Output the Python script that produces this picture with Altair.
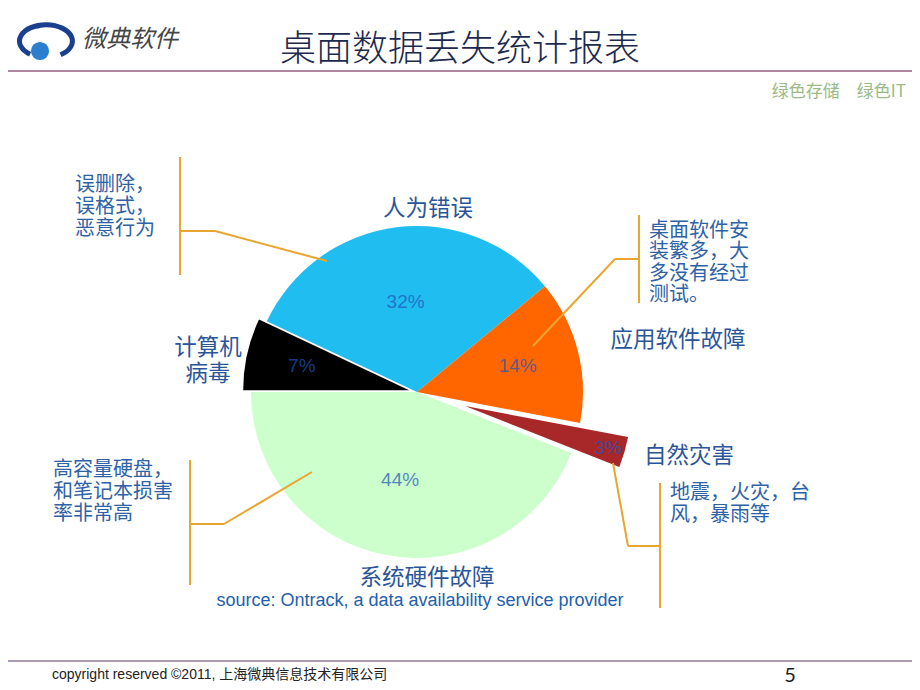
import math
import altair as alt
import pandas as pd

# ---------------- data ----------------
categories = ["计算机病毒", "人为错误", "应用软件故障", "自然灾害", "系统硬件故障"]
values = [7, 32, 14, 3, 44]
slice_colors = ["#000000", "#20BDF0", "#FF6600", "#A8282A", "#CCFFCC"]

title_text = "桌面数据丢失统计报表"
slogan_text = "绿色存储\u3000绿色IT"
logo_text = "微典软件"
source_text = "source: Ontrack, a data availability service provider"
footer_text = "copyright reserved ©2011, 上海微典信息技术有限公司"
page_no = "5"

cat_labels = [["计算机", "病毒"], ["人为错误"], ["应用软件故障"], ["自然灾害"], ["系统硬件故障"]]
notes = [
    ["误删除，", "误格式，", "恶意行为"],
    ["桌面软件安", "装繁多，大", "多没有经过", "测试。"],
    ["地震，火灾，台", "风，暴雨等"],
    ["高容量硬盘，", "和笔记本损害", "率非常高"],
]

# ---------------- layout (reference pixel coords) ----------------
OX, OY = 8, 8
CX, CY, R = 417 - OX, 392 - OY, 166
START = 1.5 * math.pi
explode_px = [8, 0, 0, 50, 0]
label_radius = [110, 91, 104, 149, 90]

CAT_COLOR = "#2A5699"
NOTE_COLOR = "#2E62A6"
LINE_COLOR = "#E8A631"
CJK = "Noto Sans CJK SC"

pie_df = pd.DataFrame({
    "cat": categories, "value": values, "order": list(range(len(values))),
    "explode": explode_px, "lr": label_radius,
})

base = (
    alt.Chart(pie_df)
    .transform_window(cum="sum(value)", sort=[alt.SortField("order")], frame=[None, 0])
    .transform_calculate(
        start="datum.cum - datum.value",
        mid=f"{START} + (datum.cum - datum.value / 2) / 100 * 2 * PI",
    )
    .transform_calculate(
        px=f"{CX} + datum.explode * sin(datum.mid)",
        py=f"{CY} - datum.explode * cos(datum.mid)",
        lx=f"{CX} + (datum.explode + datum.lr) * sin(datum.mid)",
        ly=f"{CY} - (datum.explode + datum.lr) * cos(datum.mid)",
        pct="datum.value + '%'",
    )
)

theta_scale = alt.Scale(domain=[0, 100], range=[START, START + 2 * math.pi])
arcs = base.mark_arc(radius=R).encode(
    theta=alt.Theta("start:Q", scale=theta_scale, stack=None),
    theta2="cum:Q",
    x=alt.X("px:Q", scale=None),
    y=alt.Y("py:Q", scale=None),
    color=alt.Color("cat:N", scale=alt.Scale(domain=categories, range=slice_colors), legend=None),
)

pct_labels = base.mark_text(
    font="Liberation Sans", fontSize=19, color="#2255BB", opacity=0.7,
    align="center", baseline="middle",
).encode(
    x=alt.X("lx:Q", scale=None),
    y=alt.Y("ly:Q", scale=None),
    text="pct:N",
)

# leader lines
segs = [
    (180, 157, 180, 275), (180, 231, 215, 231), (215, 231, 327, 261),
    (639, 215, 639, 303), (639, 259, 615, 259), (615, 259, 533, 346),
    (660, 483, 660, 608), (660, 546, 628, 546), (628, 546, 613, 463),
    (190, 460, 190, 585), (190, 524, 224, 524), (224, 524, 312, 472),
]
seg_df = pd.DataFrame(
    [{"x": a - OX, "y": b - OY, "x2": c - OX, "y2": d - OY} for a, b, c, d in segs]
)
leaders = alt.Chart(seg_df).mark_rule(color=LINE_COLOR, strokeWidth=2).encode(
    x=alt.X("x:Q", scale=None), y=alt.Y("y:Q", scale=None),
    x2="x2:Q", y2="y2:Q",
)

# header / footer rules
rule_df = pd.DataFrame([
    {"x": 0, "y": 71 - OY, "x2": 920, "y2": 71 - OY, "c": "#94607F"},
    {"x": 0, "y": 661 - OY, "x2": 920, "y2": 661 - OY, "c": "#8D7A99"},
])
rules = alt.Chart(rule_df).mark_rule(strokeWidth=1.5).encode(
    x=alt.X("x:Q", scale=None), y=alt.Y("y:Q", scale=None),
    x2="x2:Q", y2="y2:Q", color=alt.Color("c:N", scale=None),
)


def text_layer(rows, align="left", font=CJK, style=None, weight="normal", baseline="middle"):
    df = pd.DataFrame(
        [{"x": x - OX, "y": y - OY, "t": t, "fs": fs, "c": c} for x, y, t, fs, c in rows]
    )
    kw = dict(align=align, baseline=baseline, font=font, fontWeight=weight)
    if style:
        kw["fontStyle"] = style
    return alt.Chart(df).mark_text(**kw).encode(
        x=alt.X("x:Q", scale=None), y=alt.Y("y:Q", scale=None),
        text="t:N", size=alt.Size("fs:Q", scale=None), color=alt.Color("c:N", scale=None),
    )


# category labels (centered)
cat_pos = [[(208, 348), (208, 374)], [(428, 209)], [(678, 340)], [(689, 456)], [(427, 578)]]
cat_rows = []
for lines, poss in zip(cat_labels, cat_pos):
    for t, (x, y) in zip(lines, poss):
        cat_rows.append((x, y, t, 22.5, CAT_COLOR))
cat_layer = text_layer(cat_rows, align="center")

# notes (left aligned)
note_pos = [(75, [185, 207, 229]), (649, [231, 252, 274, 295]), (670, [493, 515]), (53, [470, 492, 514])]
note_rows = []
for lines, (x, ys) in zip(notes, note_pos):
    for t, y in zip(lines, ys):
        note_rows.append((x, y, t, 20, NOTE_COLOR))
note_layer = text_layer(note_rows, align="left")

title_layer = text_layer([(460, 50, title_text, 36, "#1C2A4E")], align="center", weight=300)
slogan_layer = text_layer([(906, 92, slogan_text, 17, "#9ABA86")], align="right")
source_layer = text_layer([(420, 601, source_text, 18, "#2260AE")], align="center", font="Liberation Sans")
footer_layer = text_layer([(52, 675, footer_text, 14, "#222222")], align="left",
                          font="Liberation Sans, Noto Sans CJK SC")
page_layer = text_layer([(790, 676, page_no, 20, "#222222")], align="center", font="Lato")
logo_text_layer = text_layer([(82, 40, logo_text, 24, "#454545")], align="left", style="italic")

# logo graphic
ring_df = pd.DataFrame({"x": [46 - OX], "y": [41 - OY]})
ring = alt.Chart(ring_df).mark_point(
    shape="M-0.6,0.5 A1,0.62 0 1,1 0.55,0.52", filled=False,
    strokeWidth=5, color="#1B3F8F", size=2800, opacity=1,
).encode(x=alt.X("x:Q", scale=None), y=alt.Y("y:Q", scale=None))
ball_df = pd.DataFrame({"x": [40 - OX, 38 - OX], "y": [51 - OY, 26 - OY], "s": [330, 25], "c": ["#2B7FD0", "#1B3F8F"]})
ball = alt.Chart(ball_df).mark_point(shape="circle", filled=True, opacity=1).encode(
    x=alt.X("x:Q", scale=None), y=alt.Y("y:Q", scale=None),
    size=alt.Size("s:Q", scale=None), color=alt.Color("c:N", scale=None),
)

chart = (
    alt.layer(
        rules, arcs, leaders, pct_labels, cat_layer, note_layer,
        title_layer, slogan_layer, source_layer, footer_layer, page_layer,
        ring, ball, logo_text_layer,
    )
    .properties(width=904, height=674, padding=0, autosize="none", background="white")
    .configure_view(stroke=None)
)

chart.save("out.html", embed_options={"renderer": "svg", "actions": False})
